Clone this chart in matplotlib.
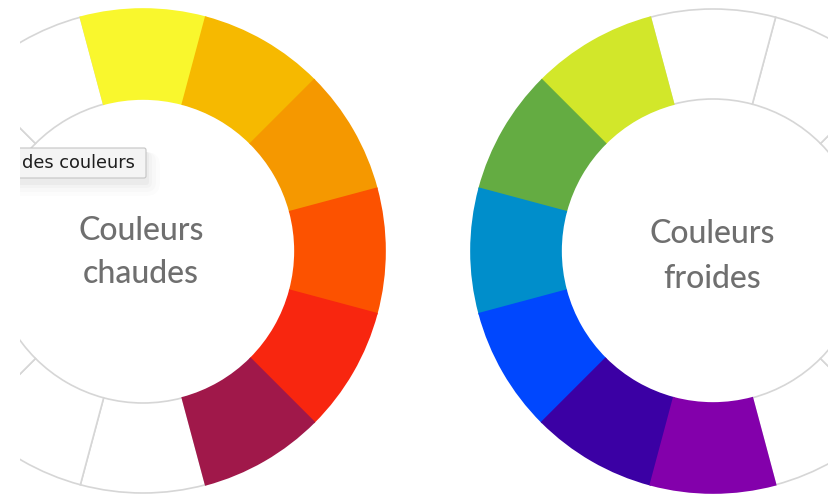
import matplotlib.pyplot as plt
from matplotlib.patches import FancyBboxPatch

# wheel data: 12 equal slices, colours
slices = [1] * 12
warm_colors = ['#f9f72d', '#f6b900', '#f59800', '#fc5200', '#f8260f', '#a0184a'] + ['white'] * 6
cold_colors = ['#d2e72a', '#64ac42', '#008ecb', '#0047fe', '#3b00a4', '#8300ab'] + ['white'] * 6
warm_label = ['Couleurs', 'chaudes']
cold_label = ['Couleurs', 'froides']
tooltip = 'des couleurs'

W, H = 838, 497
fig = plt.figure(figsize=(W / 100, H / 100), dpi=100)
ax = fig.add_axes([20 / W, 0, 808 / W, 1])

R, width = 242, 90
grey = '#d6d6d6'


def wheel(center, colors, counterclock):
    wedges, _ = ax.pie(slices, colors=colors, startangle=105, counterclock=counterclock,
                       radius=R, center=center, frame=True,
                       wedgeprops=dict(width=width, linewidth=1.2, edgecolor=grey))
    for w, c in zip(wedges, colors):
        w.set_clip_on(True)
        if c != 'white':
            w.set_edgecolor(c)
            w.set_zorder(3)
        else:
            w.set_zorder(2)


wheel((143, H - 251), warm_colors, False)
wheel((713, H - 251), cold_colors, True)

ax.set_xlim(20, 828)
ax.set_ylim(0, H)
ax.set_aspect('equal')
ax.axis('off')

label_font = dict(fontsize=23, color='#6f6f6f', ha='center', va='baseline',
                  family='Lato', weight='medium')
ax.text(141, H - 240, warm_label[0], **label_font)
ax.text(141, H - 283, warm_label[1], **label_font)
ax.text(712, H - 243, cold_label[0], **label_font)
ax.text(712, H - 288, cold_label[1], **label_font)

# tooltip with a soft shadow underneath
for pad, a in [(14, 0.012), (10, 0.015), (6, 0.02), (3, 0.03)]:
    ax.add_patch(FancyBboxPatch((0, H - 178 - pad - 4), 146 + pad, 30 + pad,
                                boxstyle='round,pad=0,rounding_size=%d' % pad,
                                facecolor='black', edgecolor='none', alpha=a, zorder=4))
ax.add_patch(FancyBboxPatch((0, H - 178), 146, 30, boxstyle='round,pad=0,rounding_size=2',
                            facecolor='#f4f4f4', edgecolor='#c4c4c4', linewidth=0.8, zorder=5))
ax.text(22, H - 163, tooltip, fontsize=12.8, color='#1e1e1e', ha='left', va='center',
        family='DejaVu Sans', zorder=6)

fig.savefig('out.png', dpi=100, facecolor='white')
